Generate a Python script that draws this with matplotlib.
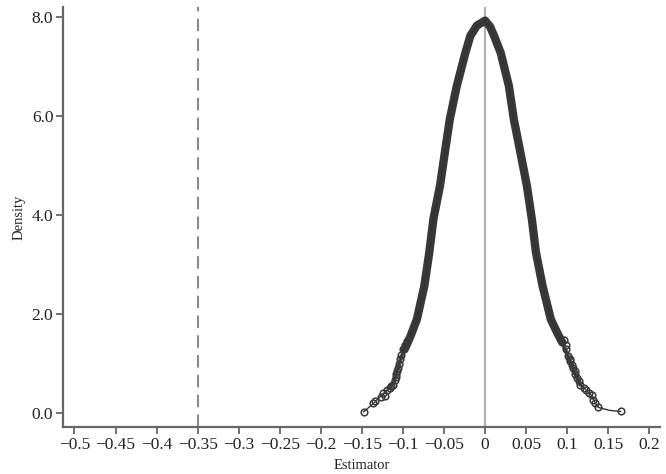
import matplotlib
matplotlib.use("Agg")
import matplotlib.pyplot as plt

# density curve (estimator, density)
curve_x = [-0.148, -0.136, -0.124, -0.116, -0.110, -0.106, -0.103, -0.098, -0.091, -0.083,
           -0.074, -0.068, -0.063, -0.059, -0.055, -0.049, -0.043, -0.0345, -0.024, -0.018,
           -0.010, 0.0, 0.006, 0.011, 0.019, 0.029, 0.035, 0.043, 0.051, 0.057,
           0.062, 0.070, 0.080, 0.088, 0.094, 0.101, 0.107, 0.112, 0.116, 0.120,
           0.126, 0.130, 0.132, 0.134, 0.138, 0.152, 0.165]
curve_y = [0.03, 0.20, 0.40, 0.52, 0.68, 0.92, 1.09, 1.29, 1.55, 1.90,
           2.57, 3.24, 3.91, 4.25, 4.58, 5.26, 5.93, 6.60, 7.27, 7.61,
           7.82, 7.92, 7.80, 7.61, 7.27, 6.60, 5.93, 5.26, 4.58, 3.91,
           3.24, 2.57, 1.90, 1.62, 1.43, 1.15, 0.92, 0.72, 0.58, 0.52,
           0.42, 0.36, 0.28, 0.22, 0.12, 0.06, 0.04]

# individual estimates visible as separate circles in the tails
tail_x = [-0.148, -0.136, -0.134, -0.127, -0.124, -0.122, -0.119, -0.116, -0.114, -0.112,
          -0.110, -0.109, -0.108, -0.107, -0.106, -0.105, -0.104, -0.102, -0.100, -0.097, -0.095,
          0.096, 0.098, 0.099, 0.101, 0.103, 0.104, 0.106, 0.107, 0.109, 0.110, 0.112, 0.114,
          0.116, 0.120, 0.123, 0.126, 0.130, 0.132, 0.134, 0.138, 0.165]
tail_y = [0.03, 0.20, 0.25, 0.33, 0.42, 0.35, 0.47, 0.52, 0.55, 0.58,
          0.68, 0.73, 0.79, 0.85, 0.92, 1.00, 1.09, 1.18, 1.29, 1.38, 1.45,
          1.49, 1.38, 1.30, 1.15, 1.10, 1.05, 0.98, 0.92, 0.85, 0.80, 0.72, 0.65,
          0.58, 0.52, 0.47, 0.42, 0.38, 0.28, 0.22, 0.12, 0.04]

observed = -0.35
xticks = [-0.5, -0.45, -0.4, -0.35, -0.3, -0.25, -0.2, -0.15, -0.1, -0.05, 0, 0.05, 0.1, 0.15, 0.2]
xlabels = ["\u22120.5", "\u22120.45", "\u22120.4", "\u22120.35", "\u22120.3", "\u22120.25", "\u22120.2",
           "\u22120.15", "\u22120.1", "\u22120.05", "0", "0.05", "0.1", "0.15", "0.2"]
yticks = [0, 2, 4, 6, 8]
ylabels = ["0.0", "2.0", "4.0", "6.0", "8.0"]

plt.rcParams["font.family"] = ["Liberation Serif", "DejaVu Serif"]

fig = plt.figure(figsize=(6.66, 4.74), dpi=100)
ax = fig.add_axes([63 / 666, (474 - 427.3) / 474, (660 - 63) / 666, (427.3 - 6.7) / 474])

ax.axvline(0, color="#b0b0b0", lw=1.6, zorder=1)
ax.axvline(observed, color="#8a8a8a", lw=1.5, ls=(0, (6, 3.5)), zorder=1)

mid = [i for i, v in enumerate(curve_x) if -0.117 <= v <= 0.117]
ax.plot([curve_x[i] for i in mid], [curve_y[i] for i in mid],
        color="#555555", lw=3.0, solid_capstyle="round", solid_joinstyle="round", zorder=2)
dense = [i for i, v in enumerate(curve_x) if -0.099 <= v <= 0.095]
ax.plot([curve_x[i] for i in dense], [curve_y[i] for i in dense],
        color="#383838", lw=6.0, solid_capstyle="round", solid_joinstyle="round", zorder=2)
ax.plot(curve_x, curve_y, color="#333333", lw=1.0, zorder=3)
ax.plot(tail_x, tail_y, ls="none", marker="o", ms=4.8, mfc="none",
        mec="#3a3a3a", mew=1.1, zorder=4)

ax.set_xlim(-0.514, 0.213)
ax.set_ylim(-0.28, 8.2)
ax.set_xticks(xticks)
ax.set_xticklabels(xlabels)
ax.set_yticks(yticks)
ax.set_yticklabels(ylabels)

for s in ["top", "right"]:
    ax.spines[s].set_visible(False)
for s in ["left", "bottom"]:
    ax.spines[s].set_color("#666666")
    ax.spines[s].set_linewidth(1.6)
ax.tick_params(axis="both", direction="out", length=5, width=1.3, color="#666666",
               labelsize=12.5, labelcolor="#222222", pad=2)

ax.set_xlabel("Estimator", fontsize=10.5, color="#222222", labelpad=4)
ax.set_ylabel("Density", fontsize=10.5, color="#222222", labelpad=4)

fig.savefig("out.png", dpi=100)
